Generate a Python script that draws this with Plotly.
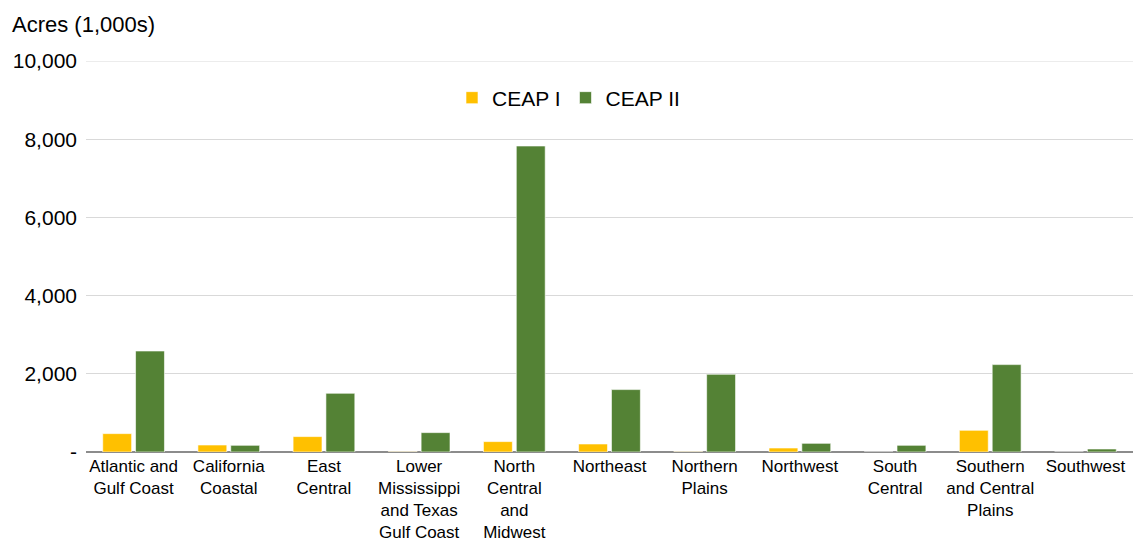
import plotly.graph_objects as go

categories = [
    "Atlantic and<br>Gulf Coast", "California<br>Coastal", "East<br>Central",
    "Lower<br>Mississippi<br>and Texas<br>Gulf Coast", "North<br>Central<br>and<br>Midwest",
    "Northeast", "Northern<br>Plains", "Northwest", "South<br>Central",
    "Southern<br>and Central<br>Plains", "Southwest",
]
ceap1 = [470, 179, 394, 8, 266, 205, 8, 102, 0, 555, 0]
ceap2 = [2583, 171, 1501, 496, 7826, 1596, 1987, 222, 171, 2235, 77]
y_ticks = [0, 2000, 4000, 6000, 8000, 10000]
y_ticktext = ["-", "2,000", "4,000", "6,000", "8,000", "10,000"]

FONT = "Arial, 'Liberation Sans', sans-serif"
W, H = 1133, 541
L, R, T, B = 86, 0, 61, 89
pw = W - L - R
ph = H - T - B

fig = go.Figure()
fig.add_trace(go.Bar(x=categories, y=ceap1, name="CEAP I",
                     marker=dict(color="#FFC000", line=dict(color="rgba(255,255,255,0.6)", width=1))))
fig.add_trace(go.Bar(x=categories, y=ceap2, name="CEAP II",
                     marker=dict(color="#548235", line=dict(color="rgba(255,255,255,0.6)", width=1))))

fig.update_layout(
    width=W, height=H,
    margin=dict(l=L, r=R, t=T, b=B, pad=0),
    paper_bgcolor="white", plot_bgcolor="white",
    barmode="group", bargap=0.31, bargroupgap=0.12,
    font=dict(family=FONT, color="#000000"),
    showlegend=True,
    legend=dict(orientation="h", x=(452 - L) / pw, xanchor="left",
                y=(H - B - 98) / ph, yanchor="middle",
                font=dict(size=21, family=FONT, color="#000000"),
                bgcolor="rgba(0,0,0,0)", itemclick=False),
    xaxis=dict(range=[-0.5, 10.5], showgrid=False, showline=False, zeroline=False,
               tickfont=dict(size=17, family=FONT, color="#000000"), tickangle=0,
               ticks="", ticklabelstandoff=2),
    yaxis=dict(range=[0, 10000], tickvals=y_ticks, ticktext=y_ticktext,
               showgrid=True, gridcolor="#D9D9D9", gridwidth=1,
               zeroline=True, zerolinecolor="#8C8C8C", zerolinewidth=2,
               showline=False, ticks="", ticklabelstandoff=8,
               tickfont=dict(size=21, family=FONT, color="#000000")),
    shapes=[dict(type="line", xref="paper", yref="y", x0=0, x1=1,
                 y0=y_ticks[-1], y1=y_ticks[-1], layer="below",
                 line=dict(color="#D9D9D9", width=1))],
    annotations=[dict(text="Acres (1,000s)", xref="paper", yref="paper",
                      x=(10 - L) / pw, y=(H - B - 24) / ph, xanchor="left", yanchor="middle",
                      showarrow=False, font=dict(size=22, family=FONT, color="#000000"))],
)

fig.write_html("out.html", config={"displayModeBar": False},
               post_script="document.body.style.margin='0px';document.documentElement.style.overflow='hidden';")
